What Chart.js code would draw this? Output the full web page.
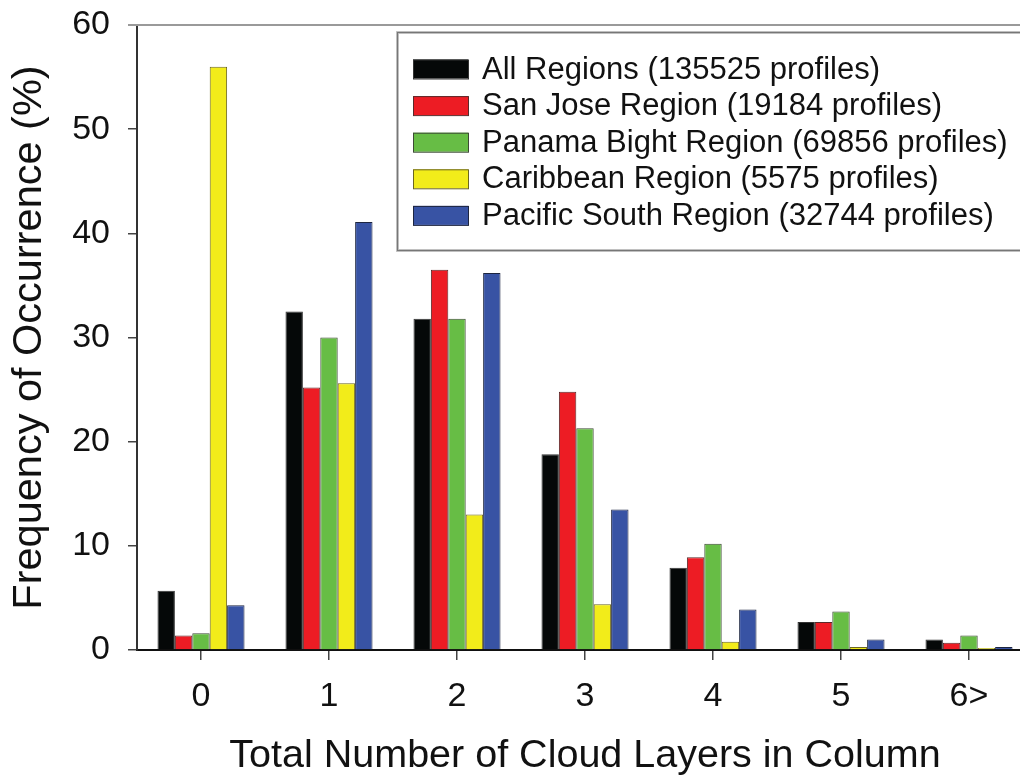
<!DOCTYPE html>
<html>
<head>
<meta charset="utf-8">
<script src="https://cdn.jsdelivr.net/npm/chart.js@4/dist/chart.umd.min.js"></script>
<style>
  html, body { margin: 0; padding: 0; background: #fff; overflow: hidden; }
  #wrap { width: 1040px; height: 780px; }
</style>
</head>
<body>
<div id="wrap"><canvas id="c" width="1040" height="780"></canvas></div>
<script>
// Cloud layer counts per column
const layerLabels = ['0', '1', '2', '3', '4', '5', '6>'];

// Frequency of occurrence (%) by region
const allRegions = [5.7, 32.5, 31.8, 18.8, 7.9, 2.7, 1.0];
const sanJose    = [1.4, 25.2, 36.5, 24.8, 8.9, 2.7, 0.7];
const panamaBight = [1.6, 30.0, 31.8, 21.3, 10.2, 3.7, 1.4];
const caribbean  = [56.0, 25.6, 13.0, 4.4, 0.8, 0.3, 0.2];
const pacificSouth = [4.3, 41.1, 36.2, 13.5, 3.9, 1.0, 0.3];

const seriesNames = [
  'All Regions (135525 profiles)',
  'San Jose Region (19184 profiles)',
  'Panama Bight Region (69856 profiles)',
  'Caribbean Region (5575 profiles)',
  'Pacific South Region (32744 profiles)'
];

const FONT = '"Liberation Sans", Arial, sans-serif';

function ds(label, data, fill, edge) {
  return {
    label, data,
    backgroundColor: fill,
    borderColor: edge,
    borderWidth: 1,
    borderSkipped: 'bottom',
    categoryPercentage: 0.68,
    barPercentage: 1.0
  };
}

// Boxed legend drawn inside the plot, plus the top frame line
const boxLegend = {
  id: 'boxLegend',
  afterDraw(chart) {
    const ctx = chart.ctx;
    const area = chart.chartArea;
    ctx.save();
    // top frame line
    ctx.strokeStyle = '#9a9a9a';
    ctx.lineWidth = 2;
    ctx.beginPath();
    ctx.moveTo(128, area.top);
    ctx.lineTo(chart.width, area.top);
    ctx.stroke();

    // legend box
    const bx = 397, by = 32, bw = 700, bh = 218;
    ctx.fillStyle = '#ffffff';
    ctx.fillRect(bx, by, bw, bh);
    ctx.strokeStyle = '#c8c8c8';
    ctx.lineWidth = 3;
    ctx.strokeRect(bx + 0.5, by + 0.5, bw, bh);
    ctx.strokeStyle = '#777777';
    ctx.lineWidth = 1.2;
    ctx.strokeRect(bx + 0.5, by + 0.5, bw, bh);

    const rowTop = 69, rowStep = 36.6;
    ctx.font = '31px ' + FONT;
    ctx.textBaseline = 'middle';
    ctx.textAlign = 'left';
    chart.data.datasets.forEach((d, i) => {
      const cy = rowTop + i * rowStep;
      ctx.fillStyle = d.backgroundColor;
      ctx.fillRect(413, cy - 9.5, 55, 19);
      ctx.strokeStyle = d.borderColor;
      ctx.lineWidth = 1;
      ctx.strokeRect(413.5, cy - 9, 55, 19);
      ctx.fillStyle = '#111111';
      ctx.fillText(d.label, 482, cy + 1);
    });
    ctx.restore();
  }
};

new Chart(document.getElementById('c'), {
  type: 'bar',
  data: {
    labels: layerLabels,
    datasets: [
      ds(seriesNames[0], allRegions, '#050808', '#333333'),
      ds(seriesNames[1], sanJose, '#ED1C24', '#5a2a2a'),
      ds(seriesNames[2], panamaBight, '#67BD45', '#3d4a35'),
      ds(seriesNames[3], caribbean, '#F2EC1A', '#6b6620'),
      ds(seriesNames[4], pacificSouth, '#3853A4', '#1d2540')
    ]
  },
  plugins: [boxLegend],
  options: {
    responsive: false,
    animation: false,
    devicePixelRatio: 1,
    layout: { padding: { top: 25, right: 7, left: 0, bottom: 0 } },
    plugins: {
      legend: { display: false },
      tooltip: { enabled: false }
    },
    scales: {
      x: {
        grid: {
          display: true,
          offset: false,
          drawOnChartArea: false,
          drawTicks: true,
          tickLength: 10,
          color: '#444444',
          lineWidth: 1.5
        },
        border: { display: true, color: '#111111', width: 2 },
        ticks: {
          font: { family: FONT, size: 34 },
          color: '#111111',
          padding: 16
        },
        title: {
          display: true,
          text: 'Total Number of Cloud Layers in Column',
          font: { family: FONT, size: 39.5 },
          color: '#111111',
          padding: { top: 6, bottom: 0 }
        },
        afterFit(scale) {
          scale.height = 130;
          scale.paddingLeft = 0;
          scale.paddingRight = 0;
        }
      },
      y: {
        min: 0,
        max: 60,
        grid: {
          display: true,
          drawOnChartArea: false,
          drawTicks: true,
          tickLength: 9,
          color: '#444444',
          lineWidth: 1.5
        },
        border: { display: true, color: '#333333', width: 2 },
        ticks: {
          stepSize: 10,
          font: { family: FONT, size: 34 },
          color: '#111111',
          padding: 18
        },
        title: {
          display: true,
          text: 'Frequency of Occurrence (%)',
          font: { family: FONT, size: 41.5 },
          color: '#111111',
          padding: { top: 5, bottom: 8 }
        },
        afterFit(scale) {
          scale.width = 137;
          scale.paddingTop = 0;
          scale.paddingBottom = 0;
        }
      }
    }
  }
});
</script>
</body>
</html>
